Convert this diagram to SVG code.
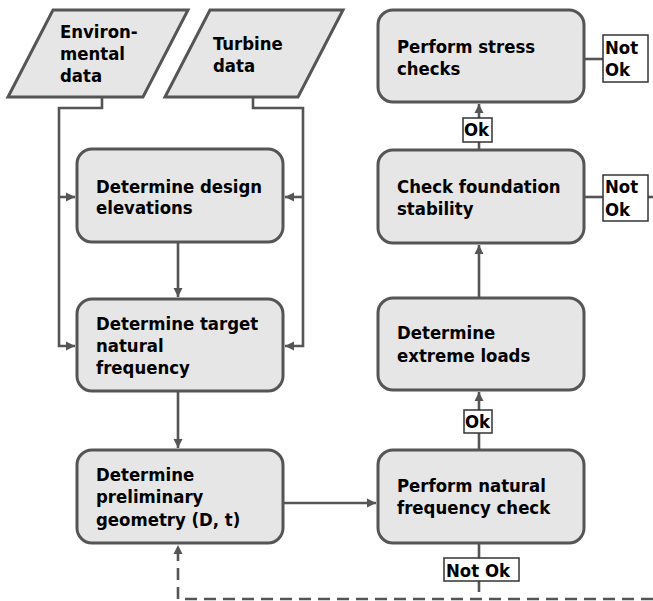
<svg xmlns="http://www.w3.org/2000/svg" width="653" height="601" viewBox="0 0 653 601">
<style>
.box{fill:#e6e6e6;stroke:#555;stroke-width:3}
.lbl{fill:#fff;stroke:#333;stroke-width:1.5}
.t{font-family:"DejaVu Sans Condensed","DejaVu Sans",sans-serif;font-stretch:condensed;font-weight:bold;font-size:18.4px;fill:#000}
.c{fill:none;stroke:#555;stroke-width:2.6}
.d{stroke-dasharray:12 7}
</style>
<defs>
<marker id="ah" markerUnits="userSpaceOnUse" markerWidth="12" markerHeight="12" refX="10" refY="6" orient="auto">
<path d="M1,1.5 L10,6 L1,10.5 Z" fill="#555"/>
</marker>
</defs>
<g id="connectors">
<path class="c" d="M102,97 V108 H59 V346 H75" marker-end="url(#ah)"/>
<path class="c" d="M59,197 H75" marker-end="url(#ah)"/>
<path class="c" d="M253,97 V108 H303 V346 H285" marker-end="url(#ah)"/>
<path class="c" d="M303,197 H285" marker-end="url(#ah)"/>
<path class="c" d="M178,242 V297" marker-end="url(#ah)"/>
<path class="c" d="M178,391 V448" marker-end="url(#ah)"/>
<path class="c" d="M270,503 H376" marker-end="url(#ah)"/>
<path class="c" d="M479,450 V392" marker-end="url(#ah)"/>
<path class="c" d="M479,298 V245" marker-end="url(#ah)"/>
<path class="c" d="M479,150 V104" marker-end="url(#ah)"/>
<path class="c" d="M584,59 H603"/>
<path class="c" d="M584,197 H603"/>
<path class="c" d="M648,197 H653"/>
<path class="c" d="M479,539 V558"/>
<path class="c" d="M479,581 V592"/>
<path class="c d" d="M653,599 H178 V545" marker-end="url(#ah)"/>
<g id="lbl-ok1"><rect class="lbl" x="464" y="410" width="28" height="23"/><text class="t" x="465" y="428">Ok</text></g>
<g id="lbl-ok2"><rect class="lbl" x="463" y="118" width="29" height="24"/><text class="t" x="464" y="136">Ok</text></g>
<g id="lbl-notok1"><rect class="lbl" x="603" y="35" width="45" height="47"/><text class="t" x="605" y="54">Not</text><text class="t" x="605" y="76">Ok</text></g>
<g id="lbl-notok2"><rect class="lbl" x="603" y="175" width="45" height="46"/><text class="t" x="605" y="193">Not</text><text class="t" x="605" y="216">Ok</text></g>
<g id="lbl-notok3"><rect class="lbl" x="444" y="558" width="75" height="23"/><text class="t" x="446" y="577">Not Ok</text></g>
</g>
<g id="env-data">
<polygon class="box" points="53,10 188,10 143,97 8,97"/>
<text class="t" x="60" y="38">Environ-</text>
<text class="t" x="60" y="60">mental</text>
<text class="t" x="60" y="82">data</text>
</g>
<g id="turbine-data">
<polygon class="box" points="210,10 343,10 298,97 165,97"/>
<text class="t" x="213" y="50">Turbine</text>
<text class="t" x="213" y="72">data</text>
</g>
<g id="design-elevations">
<rect class="box" x="77" y="149" width="206" height="93" rx="15"/>
<text class="t" x="96" y="193">Determine design</text>
<text class="t" x="96" y="214">elevations</text>
</g>
<g id="target-frequency">
<rect class="box" x="77" y="299" width="206" height="92" rx="15"/>
<text class="t" x="96" y="330">Determine target</text>
<text class="t" x="96" y="352">natural</text>
<text class="t" x="96" y="374">frequency</text>
</g>
<g id="preliminary-geometry">
<rect class="box" x="77" y="450" width="206" height="93" rx="15"/>
<text class="t" x="96" y="481">Determine</text>
<text class="t" x="96" y="503">preliminary</text>
<text class="t" x="96" y="526">geometry (D, t)</text>
</g>
<g id="natural-frequency-check">
<rect class="box" x="378" y="450" width="206" height="93" rx="15"/>
<text class="t" x="397" y="492">Perform natural</text>
<text class="t" x="397" y="514">frequency check</text>
</g>
<g id="extreme-loads">
<rect class="box" x="378" y="298" width="206" height="92" rx="15"/>
<text class="t" x="397" y="339">Determine</text>
<text class="t" x="397" y="362">extreme loads</text>
</g>
<g id="foundation-stability">
<rect class="box" x="378" y="150" width="206" height="93" rx="15"/>
<text class="t" x="397" y="193">Check foundation</text>
<text class="t" x="397" y="215">stability</text>
</g>
<g id="stress-checks">
<rect class="box" x="378" y="10" width="206" height="92" rx="15"/>
<text class="t" x="397" y="53">Perform stress</text>
<text class="t" x="397" y="75">checks</text>
</g>
</svg>
